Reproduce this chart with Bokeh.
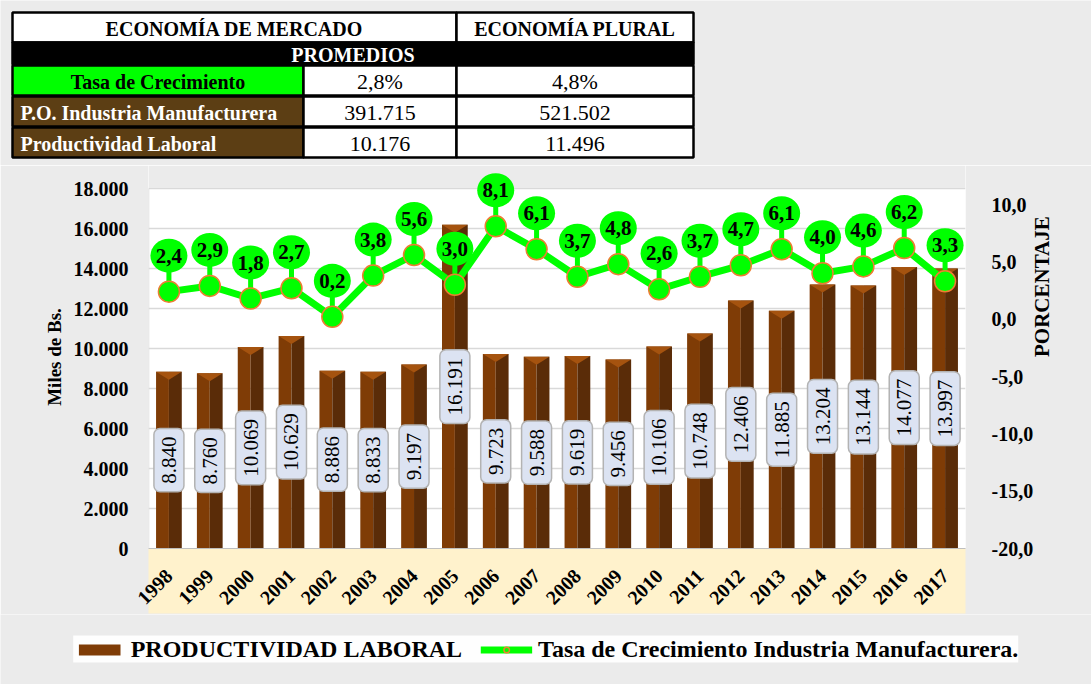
import math
from bokeh.plotting import figure
from bokeh.models import (Range1d, LinearAxis, FixedTicker, ColumnDataSource,
                          Legend, LegendItem)
from bokeh.core.properties import value
from bokeh.embed import file_html
from bokeh.resources import INLINE

# ---------------- data ----------------
years = ["1998", "1999", "2000", "2001", "2002", "2003", "2004", "2005", "2006", "2007",
         "2008", "2009", "2010", "2011", "2012", "2013", "2014", "2015", "2016", "2017"]
productividad = [8840, 8760, 10069, 10629, 8886, 8833, 9197, 16191, 9723, 9588,
                 9619, 9456, 10106, 10748, 12406, 11885, 13204, 13144, 14077, 13997]
tasa = [2.4, 2.9, 1.8, 2.7, 0.2, 3.8, 5.6, 3.0, 8.1, 6.1,
        3.7, 4.8, 2.6, 3.7, 4.7, 6.1, 4.0, 4.6, 6.2, 3.3]

left_ticks = [0, 2000, 4000, 6000, 8000, 10000, 12000, 14000, 16000, 18000]
right_ticks = [-20, -15, -10, -5, 0, 5, 10]

tbl_header = ["ECONOMÍA DE MERCADO", "ECONOMÍA PLURAL"]
tbl_sub = "PROMEDIOS"
tbl_rows = ["Tasa de Crecimiento", "P.O. Industria Manufacturera", "Productividad Laboral"]
tbl_mercado = ["2,8%", "391.715", "10.176"]
tbl_plural = ["4,8%", "521.502", "11.496"]

legend_labels = ["PRODUCTIVIDAD LABORAL", "Tasa de Crecimiento Industria Manufacturera."]

FONT = "Liberation Serif"
BG = "#ebebeb"
GREEN = "#00ff00"
ORANGE = "#ed7d31"
BAR_L = "#7f3c06"
BAR_R = "#5a2c08"
BAR_TOP = "#a5530f"

W = 1091
TH = 165
MH = 449
LH = 70


def fmt_thousands(v):
    return f"{v:,}".replace(",", ".")


def fmt_dec(v):
    return f"{v:.1f}".replace(".", ",")


def blank_fig(h):
    f = figure(width=W, height=h, x_range=Range1d(0, W), y_range=Range1d(h, 0),
               output_backend="svg", toolbar_location=None,
               min_border=0, min_border_left=0, min_border_right=0,
               min_border_top=0, min_border_bottom=0)
    f.axis.visible = False
    f.grid.visible = False
    f.outline_line_color = None
    f.background_fill_color = BG
    f.border_fill_color = BG
    return f


# ---------------- table figure ----------------
tbl = blank_fig(TH)
cx = [12, 303, 456, 693]
ry = [12, 42, 64, 95, 126, 157]
TF = "20px"

tbl.quad(left=[cx[0], cx[2]], right=[cx[2], cx[3]], top=[ry[0], ry[0]], bottom=[ry[1], ry[1]],
         fill_color="white", line_color="black", line_width=2.5)
tbl.text(x=[(cx[0] + cx[2]) / 2, (cx[2] + cx[3]) / 2], y=[(ry[0] + ry[1]) / 2 + 1] * 2, text=tbl_header,
         text_font=value(FONT), text_font_style="bold", text_font_size=TF,
         text_align="center", text_baseline="middle", text_color="black")
tbl.quad(left=[cx[0]], right=[cx[3]], top=[ry[1]], bottom=[ry[2]],
         fill_color="black", line_color="black", line_width=2.5)
tbl.text(x=[(cx[0] + cx[3]) / 2], y=[(ry[1] + ry[2]) / 2 + 1], text=[tbl_sub],
         text_font=value(FONT), text_font_style="bold", text_font_size=TF,
         text_align="center", text_baseline="middle", text_color="white")
row_fill = [GREEN, "#5c3e14", "#5c3e14"]
row_txt = ["black", "white", "white"]
for k in range(3):
    top, bot = ry[k + 2] + 1, ry[k + 3]
    tbl.quad(left=[cx[0]], right=[cx[1]], top=[top], bottom=[bot],
             fill_color=row_fill[k], line_color="black", line_width=2.5)
    tbl.quad(left=[cx[1], cx[2]], right=[cx[2], cx[3]], top=[top, top], bottom=[bot, bot],
             fill_color="white", line_color="black", line_width=2.5)
    mid = (top + bot) / 2 + 1
    if k == 0:
        tbl.text(x=[(cx[0] + cx[1]) / 2], y=[mid], text=[tbl_rows[k]], text_font=value(FONT),
                 text_font_style="bold", text_font_size=TF, text_align="center",
                 text_baseline="middle", text_color=row_txt[k])
    else:
        tbl.text(x=[cx[0] + 8], y=[mid], text=[tbl_rows[k]], text_font=value(FONT),
                 text_font_style="bold", text_font_size=TF, text_align="left",
                 text_baseline="middle", text_color=row_txt[k])
    tbl.text(x=[(cx[1] + cx[2]) / 2, (cx[2] + cx[3]) / 2], y=[mid, mid],
             text=[tbl_mercado[k], tbl_plural[k]], text_font=value(FONT),
             text_font_size="22px", text_align="center", text_baseline="middle",
             text_color="black")

# ---------------- main chart ----------------
n = len(years)
idx = list(range(n))
PX_PER_K = 20.0                      # pixels per 1000 Bs.
TOP_EXTRA = 23                       # px of frame above the 18.000 line (room for callouts)
Y_MAX = 18000
Y_END = Y_MAX + TOP_EXTRA * 1000 / PX_PER_K
PCT_LO = -20
PCT_PER_PX = 30 / 344
PCT_HI = PCT_LO + (360 + TOP_EXTRA) * PCT_PER_PX

p = figure(width=W, height=MH, x_range=Range1d(-0.5, n - 0.5), y_range=Range1d(0, Y_END),
           output_backend="svg", toolbar_location=None,
           min_border_left=148, min_border_right=W - 965, min_border_top=0, min_border_bottom=66)
p.background_fill_color = "white"
p.border_fill_color = BG
p.outline_line_color = None
p.extra_y_ranges = {"pct": Range1d(PCT_LO, PCT_HI)}

# grey strip above the plot area (frame is taller so callouts are not clipped)
p.quad(left=[-0.5], right=[n - 0.5], bottom=[Y_MAX + 20], top=[Y_END], fill_color=BG, line_color=None)
p.segment(x0=[-0.5], y0=[0], x1=[-0.5], y1=[Y_MAX], line_color="#d9d9d9", line_width=1.5)

bw = 0.63
src = ColumnDataSource(dict(
    x=idx,
    xl=[i - bw / 4 for i in idx],
    xr=[i + bw / 4 for i in idx],
    top=productividad,
    mid=[v / 2 for v in productividad],
    lbl=[fmt_thousands(v) for v in productividad],
))
p.vbar(x="xl", width=bw / 2, top="top", bottom=0, source=src, fill_color=BAR_L, line_color=None)
p.vbar(x="xr", width=bw / 2, top="top", bottom=0, source=src, fill_color=BAR_R, line_color=None)
bevel = 8 * 1000 / PX_PER_K
p.patches(xs=[[i - bw / 2, i + bw / 2, i] for i in idx],
          ys=[[v, v, v - bevel] for v in productividad],
          fill_color=BAR_TOP, line_color=None)

p.text(x="x", y="mid", text="lbl", source=src, angle=math.pi / 2,
       text_align="center", text_baseline="middle",
       text_font=value(FONT), text_font_size="21px", text_color="black",
       background_fill_color="#dce3f2", border_line_color="#b3b3b3",
       border_line_width=1.5, padding=8, border_radius=6)

off = 36 * PCT_PER_PX
lsrc = ColumnDataSource(dict(x=idx, y=tasa, yb=[t + off for t in tasa],
                             lbl=[fmt_dec(t) for t in tasa]))
p.line(x="x", y="y", source=lsrc, y_range_name="pct", line_color=GREEN, line_width=7)
p.segment(x0="x", y0="y", x1="x", y1="yb", source=lsrc, y_range_name="pct",
          line_color=GREEN, line_width=5)
p.ellipse(x="x", y="yb", width=37, height=34, width_units="screen", height_units="screen",
          source=lsrc, y_range_name="pct", fill_color=GREEN, line_color=None)
p.scatter(x="x", y="y", source=lsrc, y_range_name="pct", size=21,
          fill_color=GREEN, line_color=ORANGE, line_width=1.5)
p.text(x="x", y="yb", text="lbl", source=lsrc, y_range_name="pct",
       text_font=value(FONT), text_font_style="bold", text_font_size="21px",
       text_align="center", text_baseline="middle", text_color="black")

p.xgrid.visible = False
p.ygrid.grid_line_color = "#d9d9d9"
p.ygrid.grid_line_width = 1.5
p.ygrid.ticker = FixedTicker(ticks=left_ticks)

ya = p.yaxis[0]
ya.ticker = FixedTicker(ticks=left_ticks)
ya.major_label_overrides = {t: fmt_thousands(t) for t in left_ticks}
ya.axis_label = "Miles de Bs."
ya.major_tick_line_color = None
ya.minor_tick_line_color = None
ya.axis_line_color = None
ya.major_label_text_font = FONT
ya.major_label_text_font_style = "bold"
ya.major_label_text_font_size = "20px"
ya.major_label_text_color = "black"
ya.major_label_standoff = 14
ya.axis_label_text_font = FONT
ya.axis_label_text_font_style = "bold"
ya.axis_label_text_font_size = "19px"
ya.axis_label_text_color = "black"
ya.axis_label_standoff = 6

ra = LinearAxis(y_range_name="pct", ticker=FixedTicker(ticks=right_ticks),
                axis_label="PORCENTAJE")
ra.major_label_overrides = {t: fmt_dec(t) for t in right_ticks}
ra.major_tick_line_color = None
ra.minor_tick_line_color = None
ra.axis_line_color = None
ra.major_label_text_font = FONT
ra.major_label_text_font_style = "bold"
ra.major_label_text_font_size = "20px"
ra.major_label_text_color = "black"
ra.major_label_standoff = 20
ra.axis_label_text_font = FONT
ra.axis_label_text_font_style = "bold"
ra.axis_label_text_font_size = "21px"
ra.axis_label_text_color = "black"
ra.axis_label_standoff = 6
try:
    ra.axis_label_orientation = math.pi / 2
    ra.axis_label_text_align = "center"
except Exception:
    pass
p.add_layout(ra, "right")

xa = p.xaxis[0]
xa.ticker = FixedTicker(ticks=idx)
xa.major_label_overrides = {i: y for i, y in zip(idx, years)}
xa.major_label_orientation = math.pi / 4
xa.major_tick_line_color = None
xa.minor_tick_line_color = None
xa.axis_line_color = "#bfbfbf"
xa.major_label_text_font = FONT
xa.major_label_text_font_style = "bold"
xa.major_label_text_font_size = "20px"
xa.major_label_text_color = "black"
xa.major_label_standoff = 18
xa.background_fill_color = "#fff2cc"

# ---------------- legend figure ----------------
lg = blank_fig(LH)
far = dict(x=[-500], y=[-500])
r_bar = lg.vbar(x="x", top="y", width=1, source=ColumnDataSource(dict(far)),
                fill_color=BAR_L, line_color=None)
r_line = lg.line(x="x", y="y", source=ColumnDataSource(dict(far)), line_color=GREEN, line_width=7)
r_mark = lg.scatter(x="x", y="y", source=ColumnDataSource(dict(far)), size=17,
                    fill_color=GREEN, line_color=ORANGE, line_width=1.5)
legend = Legend(items=[LegendItem(label=legend_labels[0], renderers=[r_bar]),
                       LegendItem(label=legend_labels[1], renderers=[r_line, r_mark])],
                orientation="horizontal", location="center",
                label_text_font=FONT, label_text_font_style="bold", label_text_font_size="24px",
                label_text_color="black", label_standoff=6,
                glyph_width=52, glyph_height=14, spacing=18, padding=9,
                background_fill_color="white", border_line_color=None)
lg.add_layout(legend, "center")

open("out.html", "w").write(file_html([tbl, p, lg], INLINE))
